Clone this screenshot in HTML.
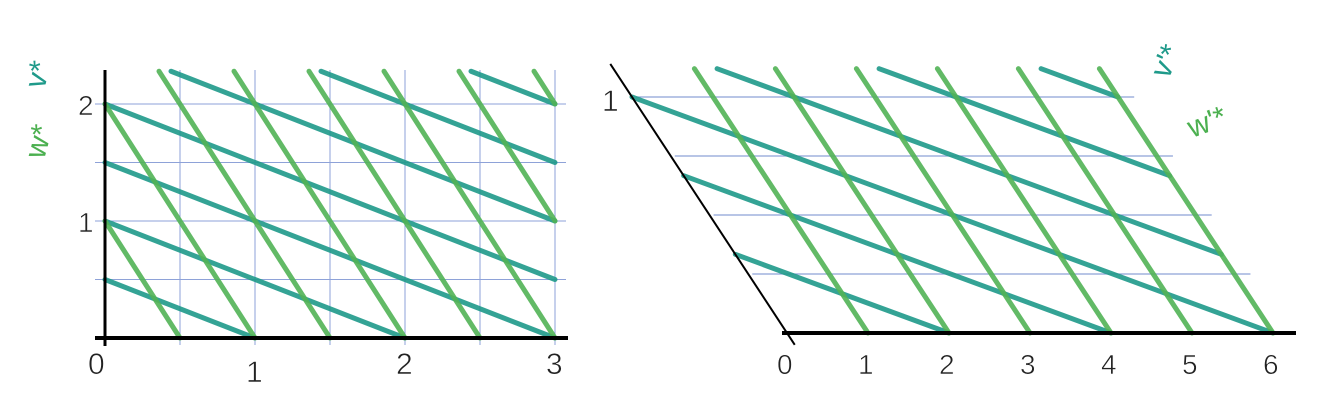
<!DOCTYPE html>
<html><head><meta charset="utf-8"><style>
html,body{margin:0;padding:0;background:#fff;}
svg{display:block;font-family:"Liberation Sans",sans-serif;}
</style></head><body>
<svg id="c" width="1332" height="407" xmlns="http://www.w3.org/2000/svg">
<g id="left"></g>
<g id="right"></g>
<g font-size="30">
<text x="44" y="90" fill="#1f9a8a" transform="rotate(-75 44 90)">v*</text>
<text x="44" y="160" fill="#4cb050" transform="rotate(-75 44 160)">w*</text>
<text x="1168" y="80" fill="#1f9a8a" transform="rotate(-65 1168 80)">v'*</text>
<text x="1192" y="138" fill="#4cb050" transform="rotate(-20 1192 138)">w'*</text>
</g>
</svg>
<script>
// Left panel data
const leftXTicks = [0, 1, 2, 3];
const leftYTicks = [1, 2];
const leftGridX = [0.5, 1, 1.5, 2, 2.5, 3];
const leftGridY = [0.5, 1, 1.5, 2];
const leftGreenK = [1, 2, 3, 4, 5, 6, 7, 8];      // y = k - 2x
const leftTealC = [0.5, 1, 1.5, 2, 2.5, 3, 3.5];  // y = c - x/2
// Right panel data
const rightXTicks = [0, 1, 2, 3, 4, 5, 6];
const rightYTicks = [1];
const rightGridV = [0.25, 0.5, 0.75, 1];
const rightGreenU = [1, 2, 3, 4, 5, 6];           // u = const
const rightTealC = [1/3, 2/3, 1, 4/3, 5/3, 2];    // v = c - u/6

const NS = "http://www.w3.org/2000/svg";
function mk(parent, tag, attrs) {
  const e = document.createElementNS(NS, tag);
  for (const k in attrs) e.setAttribute(k, attrs[k]);
  parent.appendChild(e);
  return e;
}
const GREEN = "#52b356", TEAL = "#1f9a8a", GRID = "#8ea2d8";

// ---------- left ----------
const L = document.getElementById('left');
const lx = x => 105 + 150 * x;
const ly = y => 338 - 117 * y;
const LYMAX = 2.28;
leftGridX.forEach(x => {
  const e = mk(L, 'line', {x1: lx(x), y1: 70, x2: lx(x), y2: 345, stroke: GRID, 'stroke-width': 1});
  
  
});
leftGridY.forEach(y => {
  const e = mk(L, 'line', {x1: 95, y1: ly(y), x2: 566, y2: ly(y), stroke: GRID, 'stroke-width': 1});
  
  
});
function clipL(a, b) {
  let x0 = 0, x1 = 3;
  const xa = (0 - a) / b, xb = (LYMAX - a) / b;
  x0 = Math.max(x0, xb); x1 = Math.min(x1, xa);
  return [x0, a + b * x0, x1, a + b * x1];
}
leftTealC.forEach(c => {
  const s = clipL(c, -0.5);
  const e = mk(L, 'line', {x1: lx(s[0]), y1: ly(s[1]), x2: lx(s[2]), y2: ly(s[3]), stroke: TEAL, 'stroke-width': 5, 'stroke-linecap': 'round', opacity: 0.9});
  
  
});
leftGreenK.forEach(k => {
  const s = clipL(k, -2);
  const e = mk(L, 'line', {x1: lx(s[0]), y1: ly(s[1]), x2: lx(s[2]), y2: ly(s[3]), stroke: GREEN, 'stroke-width': 5, 'stroke-linecap': 'round', opacity: 0.9});
  
  
});
let ax = mk(L, 'line', {x1: 95, y1: 338, x2: 568, y2: 338, stroke: '#000', 'stroke-width': 4});


ax = mk(L, 'line', {x1: 105, y1: 70, x2: 105, y2: 346, stroke: '#000', 'stroke-width': 3});


leftXTicks.forEach((t, i) => {
  const e = mk(L, 'text', {x: lx(t) - 9 - (i === 0 ? 8 : 0), y: i === 1 ? 382 : 374, 'font-size': 30, fill: '#222', stroke: '#fff', 'stroke-width': 0.6});
  e.textContent = t;
  
  
});
leftYTicks.forEach(t => {
  const e = mk(L, 'text', {x: 78, y: ly(t) + 11, 'font-size': 28, fill: '#222', stroke: '#fff', 'stroke-width': 0.6});
  e.textContent = t;
  
  
});

// ---------- right ----------
const R = document.getElementById('right');
const px = (u, v) => 787 + 81 * u - 155 * v;
const py = (u, v) => 333 - 236 * v;
const VMAX = 1.12;
rightGridV.forEach(v => {
  const e = mk(R, 'line', {x1: px(0.05, v), y1: py(0, v), x2: px(6.2, v), y2: py(0, v), stroke: GRID, 'stroke-width': 1.2});
  
  
});
rightTealC.forEach(c => {
  let u0 = Math.max(0, (c - VMAX) * 6), u1 = Math.min(6, c * 6);
  const e = mk(R, 'line', {x1: px(u0, c - u0 / 6), y1: py(u0, c - u0 / 6), x2: px(u1, c - u1 / 6), y2: py(u1, c - u1 / 6), stroke: TEAL, 'stroke-width': 5, 'stroke-linecap': 'round', opacity: 0.9});
  
  
});
rightGreenU.forEach(u => {
  const e = mk(R, 'line', {x1: px(u, VMAX), y1: py(u, VMAX), x2: px(u, 0), y2: py(u, 0), stroke: GREEN, 'stroke-width': 5, 'stroke-linecap': 'round', opacity: 0.9});
  
  
});
ax = mk(R, 'line', {x1: 782, y1: 333, x2: 1296, y2: 333, stroke: '#000', 'stroke-width': 4});


ax = mk(R, 'line', {x1: px(0, 1.14), y1: py(0, 1.14), x2: px(0, -0.05), y2: py(0, -0.05), stroke: '#000', 'stroke-width': 2});


rightXTicks.forEach(t => {
  const e = mk(R, 'text', {x: px(t, 0) - 10, y: 374, 'font-size': 28, fill: '#222', stroke: '#fff', 'stroke-width': 0.6});
  e.textContent = t;
  
  
});
rightYTicks.forEach(t => {
  const e = mk(R, 'text', {x: px(0, t) - 30, y: py(0, t) + 14, 'font-size': 30, fill: '#222', stroke: '#fff', 'stroke-width': 0.6});
  e.textContent = t;
  
  
});
</script>
</body></html>
